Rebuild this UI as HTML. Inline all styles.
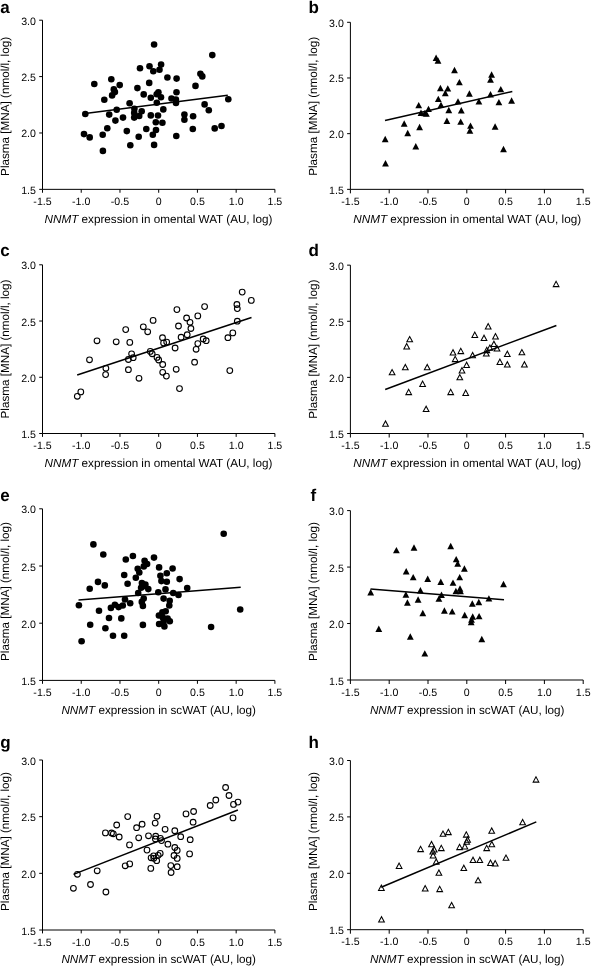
<!DOCTYPE html><html><head><meta charset="utf-8"><style>html,body{margin:0;padding:0;background:#fff;}svg{display:block;}text{font-family:"Liberation Sans", sans-serif;fill:#000;text-rendering:geometricPrecision;}svg{will-change:transform;}</style></head><body>
<svg width="591" height="966" viewBox="0 0 591 966">
<rect width="591" height="966" fill="#fff"/>
<g><text x="0.3" y="12.7" style="font-size:17px;font-weight:bold">a</text><path d="M42.5 20.2V189.35H274.9" fill="none" stroke="#000" stroke-width="1"/><path d="M39.2 20.2H42.5M39.2 76.58H42.5M39.2 132.97H42.5M39.2 189.35H42.5M42.5 189.35V192.75M81.23 189.35V192.75M119.97 189.35V192.75M158.7 189.35V192.75M197.43 189.35V192.75M236.17 189.35V192.75M274.9 189.35V192.75" fill="none" stroke="#000" stroke-width="1"/><text x="35.9" y="24.7" text-anchor="end" style="font-size:10.6px">3.0</text><text x="35.9" y="81.08" text-anchor="end" style="font-size:10.6px">2.5</text><text x="35.9" y="137.47" text-anchor="end" style="font-size:10.6px">2.0</text><text x="35.9" y="193.85" text-anchor="end" style="font-size:10.6px">1.5</text><text x="42.5" y="204.85" text-anchor="middle" style="font-size:10.6px">-1.5</text><text x="81.23" y="204.85" text-anchor="middle" style="font-size:10.6px">-1.0</text><text x="119.97" y="204.85" text-anchor="middle" style="font-size:10.6px">-0.5</text><text x="158.7" y="204.85" text-anchor="middle" style="font-size:10.6px">0</text><text x="197.43" y="204.85" text-anchor="middle" style="font-size:10.6px">0.5</text><text x="236.17" y="204.85" text-anchor="middle" style="font-size:10.6px">1.0</text><text x="274.9" y="204.85" text-anchor="middle" style="font-size:10.6px">1.5</text><text transform="translate(8.8 175.9) rotate(-90)" style="font-size:11.7px">Plasma [MNA] (nmol/l, log)</text><text x="44.6" y="222.7" style="font-size:11.7px"><tspan style="font-style:italic">NNMT</tspan> expression in omental WAT (AU, log)</text><g fill="#000"><circle cx="154.1" cy="44.5" r="3.3"/><circle cx="212.3" cy="55.1" r="3.3"/><circle cx="94.3" cy="84" r="3.3"/><circle cx="111.3" cy="79.2" r="3.3"/><circle cx="119.7" cy="85.1" r="3.3"/><circle cx="113.8" cy="89.4" r="3.3"/><circle cx="114.9" cy="92.1" r="3.3"/><circle cx="112.1" cy="95.4" r="3.3"/><circle cx="104.3" cy="99.7" r="3.3"/><circle cx="85.3" cy="114" r="3.3"/><circle cx="140" cy="68.3" r="3.3"/><circle cx="149.5" cy="66.2" r="3.3"/><circle cx="153.3" cy="71.3" r="3.3"/><circle cx="159.5" cy="69.7" r="3.3"/><circle cx="161.1" cy="64.5" r="3.3"/><circle cx="167.4" cy="77.5" r="3.3"/><circle cx="176.6" cy="78.6" r="3.3"/><circle cx="149.2" cy="82.9" r="3.3"/><circle cx="137.4" cy="88.1" r="3.3"/><circle cx="143.7" cy="94.4" r="3.3"/><circle cx="150.8" cy="97.7" r="3.3"/><circle cx="158.4" cy="92.3" r="3.3"/><circle cx="156.7" cy="94.2" r="3.3"/><circle cx="161" cy="97.3" r="3.3"/><circle cx="156.8" cy="102.7" r="3.3"/><circle cx="129.6" cy="103.2" r="3.3"/><circle cx="171.5" cy="98.5" r="3.3"/><circle cx="176.5" cy="92.3" r="3.3"/><circle cx="175.9" cy="99.5" r="3.3"/><circle cx="176" cy="102.9" r="3.3"/><circle cx="200.4" cy="73.7" r="3.3"/><circle cx="202.3" cy="76.4" r="3.3"/><circle cx="195.5" cy="85.9" r="3.3"/><circle cx="228.3" cy="99.2" r="3.3"/><circle cx="204.6" cy="104.4" r="3.3"/><circle cx="208.8" cy="110.2" r="3.3"/><circle cx="116.7" cy="109.7" r="3.3"/><circle cx="109.2" cy="114.6" r="3.3"/><circle cx="115.4" cy="120.6" r="3.3"/><circle cx="123" cy="117.6" r="3.3"/><circle cx="134.4" cy="108.8" r="3.3"/><circle cx="134.2" cy="112.9" r="3.3"/><circle cx="141.7" cy="111.3" r="3.3"/><circle cx="134.2" cy="117.6" r="3.3"/><circle cx="139.2" cy="116" r="3.3"/><circle cx="163.3" cy="109.4" r="3.3"/><circle cx="150.8" cy="115.4" r="3.3"/><circle cx="158" cy="115.5" r="3.3"/><circle cx="155.8" cy="122.3" r="3.3"/><circle cx="162.4" cy="122.8" r="3.3"/><circle cx="184.4" cy="114.6" r="3.3"/><circle cx="184.4" cy="119.8" r="3.3"/><circle cx="193.1" cy="116.2" r="3.3"/><circle cx="192.8" cy="129" r="3.3"/><circle cx="214.7" cy="128.4" r="3.3"/><circle cx="221.5" cy="126" r="3.3"/><circle cx="107.3" cy="128.2" r="3.3"/><circle cx="84" cy="134.1" r="3.3"/><circle cx="89.7" cy="137.4" r="3.3"/><circle cx="102.7" cy="134.7" r="3.3"/><circle cx="126.8" cy="131.1" r="3.3"/><circle cx="146.3" cy="129" r="3.3"/><circle cx="156" cy="130" r="3.3"/><circle cx="152.8" cy="134.7" r="3.3"/><circle cx="138.7" cy="136.8" r="3.3"/><circle cx="176.3" cy="136" r="3.3"/><circle cx="130.3" cy="145.2" r="3.3"/><circle cx="154.1" cy="144.9" r="3.3"/><circle cx="102.9" cy="150.9" r="3.3"/></g><path d="M85.1 113.5L227.8 95.2" stroke="#000" stroke-width="1.55" fill="none"/></g>
<g><text x="308.4" y="12.7" style="font-size:17px;font-weight:bold">b</text><path d="M350.4 22.3V189.35H583.2" fill="none" stroke="#000" stroke-width="1"/><path d="M347.1 22.3H350.4M347.1 77.98H350.4M347.1 133.67H350.4M347.1 189.35H350.4M350.4 189.35V193.35M389.2 189.35V193.35M428 189.35V193.35M466.8 189.35V193.35M505.6 189.35V193.35M544.4 189.35V193.35M583.2 189.35V193.35" fill="none" stroke="#000" stroke-width="1"/><text x="343.8" y="26.8" text-anchor="end" style="font-size:10.6px">3.0</text><text x="343.8" y="82.48" text-anchor="end" style="font-size:10.6px">2.5</text><text x="343.8" y="138.17" text-anchor="end" style="font-size:10.6px">2.0</text><text x="343.8" y="193.85" text-anchor="end" style="font-size:10.6px">1.5</text><text x="350.4" y="204.85" text-anchor="middle" style="font-size:10.6px">-1.5</text><text x="389.2" y="204.85" text-anchor="middle" style="font-size:10.6px">-1.0</text><text x="428" y="204.85" text-anchor="middle" style="font-size:10.6px">-0.5</text><text x="466.8" y="204.85" text-anchor="middle" style="font-size:10.6px">0</text><text x="505.6" y="204.85" text-anchor="middle" style="font-size:10.6px">0.5</text><text x="544.4" y="204.85" text-anchor="middle" style="font-size:10.6px">1.0</text><text x="583.2" y="204.85" text-anchor="middle" style="font-size:10.6px">1.5</text><text transform="translate(316.75 175.8) rotate(-90)" style="font-size:11.7px">Plasma [MNA] (nmol/l, log)</text><text x="353.3" y="222.7" style="font-size:11.7px"><tspan style="font-style:italic">NNMT</tspan> expression in omental WAT (AU, log)</text><g fill="#000"><path d="M436.1 54.55L432.7 60.95L439.5 60.95Z"/><path d="M438 57.25L434.6 63.65L441.4 63.65Z"/><path d="M454.5 66.75L451.1 73.15L457.9 73.15Z"/><path d="M491.6 71.35L488.2 77.75L495 77.75Z"/><path d="M490.5 76.25L487.1 82.65L493.9 82.65Z"/><path d="M459.4 78.95L456 85.35L462.8 85.35Z"/><path d="M440.4 84.85L437 91.25L443.8 91.25Z"/><path d="M447.8 85.15L444.4 91.55L451.2 91.55Z"/><path d="M445.3 89.75L441.9 96.15L448.7 96.15Z"/><path d="M469.4 90.25L466 96.65L472.8 96.65Z"/><path d="M500.8 85.95L497.4 92.35L504.2 92.35Z"/><path d="M490.5 91.05L487.1 97.45L493.9 97.45Z"/><path d="M438.3 95.65L434.9 102.05L441.7 102.05Z"/><path d="M458 98.15L454.6 104.55L461.4 104.55Z"/><path d="M478.9 98.15L475.5 104.55L482.3 104.55Z"/><path d="M498.9 98.95L495.5 105.35L502.3 105.35Z"/><path d="M511.6 97.35L508.2 103.75L515 103.75Z"/><path d="M418.7 101.95L415.3 108.35L422.1 108.35Z"/><path d="M441 101.65L437.6 108.05L444.4 108.05Z"/><path d="M428.5 105.65L425.1 112.05L431.9 112.05Z"/><path d="M421 109.55L417.6 115.95L424.4 115.95Z"/><path d="M424.8 109.95L421.4 116.35L428.2 116.35Z"/><path d="M426.4 110.45L423 116.85L429.8 116.85Z"/><path d="M448.8 106.75L445.4 113.15L452.2 113.15Z"/><path d="M461.3 107.05L457.9 113.45L464.7 113.45Z"/><path d="M404.2 120.35L400.8 126.75L407.6 126.75Z"/><path d="M419.6 123.85L416.2 130.25L423 130.25Z"/><path d="M446.9 117.55L443.5 123.95L450.3 123.95Z"/><path d="M460.7 118.45L457.3 124.85L464.1 124.85Z"/><path d="M470.5 122.45L467.1 128.85L473.9 128.85Z"/><path d="M469.9 127.35L466.5 133.75L473.3 133.75Z"/><path d="M495.1 123.35L491.7 129.75L498.5 129.75Z"/><path d="M407.7 129.85L404.3 136.25L411.1 136.25Z"/><path d="M385.5 160.05L382.1 166.45L388.9 166.45Z"/><path d="M415.8 143.05L412.4 149.45L419.2 149.45Z"/><path d="M503.5 145.75L500.1 152.15L506.9 152.15Z"/><path d="M385.2 135.75L381.8 142.15L388.6 142.15Z"/></g><path d="M385 120.5L512.3 91.5" stroke="#000" stroke-width="1.55" fill="none"/></g>
<g><text x="0.3" y="256.2" style="font-size:17px;font-weight:bold">c</text><path d="M42.5 264.8V433.5H274.9" fill="none" stroke="#000" stroke-width="1"/><path d="M39.2 264.8H42.5M39.2 321.03H42.5M39.2 377.27H42.5M39.2 433.5H42.5M42.5 433.5V436.9M81.23 433.5V436.9M119.97 433.5V436.9M158.7 433.5V436.9M197.43 433.5V436.9M236.17 433.5V436.9M274.9 433.5V436.9" fill="none" stroke="#000" stroke-width="1"/><text x="35.9" y="269.3" text-anchor="end" style="font-size:10.6px">3.0</text><text x="35.9" y="325.53" text-anchor="end" style="font-size:10.6px">2.5</text><text x="35.9" y="381.77" text-anchor="end" style="font-size:10.6px">2.0</text><text x="35.9" y="438" text-anchor="end" style="font-size:10.6px">1.5</text><text x="42.5" y="449" text-anchor="middle" style="font-size:10.6px">-1.5</text><text x="81.23" y="449" text-anchor="middle" style="font-size:10.6px">-1.0</text><text x="119.97" y="449" text-anchor="middle" style="font-size:10.6px">-0.5</text><text x="158.7" y="449" text-anchor="middle" style="font-size:10.6px">0</text><text x="197.43" y="449" text-anchor="middle" style="font-size:10.6px">0.5</text><text x="236.17" y="449" text-anchor="middle" style="font-size:10.6px">1.0</text><text x="274.9" y="449" text-anchor="middle" style="font-size:10.6px">1.5</text><text transform="translate(8.85 418.5) rotate(-90)" style="font-size:11.7px">Plasma [MNA] (nmol/l, log)</text><text x="44.6" y="466.85" style="font-size:11.7px"><tspan style="font-style:italic">NNMT</tspan> expression in omental WAT (AU, log)</text><g fill="none" stroke="#000" stroke-width="1.1"><circle cx="153.1" cy="320.4" r="2.85"/><circle cx="143.3" cy="326.8" r="2.85"/><circle cx="147.7" cy="331.8" r="2.85"/><circle cx="125.7" cy="329.6" r="2.85"/><circle cx="97" cy="340.8" r="2.85"/><circle cx="116.2" cy="341.8" r="2.85"/><circle cx="129.8" cy="342.4" r="2.85"/><circle cx="162.5" cy="337.7" r="2.85"/><circle cx="163.6" cy="342.9" r="2.85"/><circle cx="166.7" cy="342.1" r="2.85"/><circle cx="89.5" cy="359.8" r="2.85"/><circle cx="131.6" cy="353.8" r="2.85"/><circle cx="133.2" cy="357.7" r="2.85"/><circle cx="128.4" cy="359.5" r="2.85"/><circle cx="150.3" cy="351.4" r="2.85"/><circle cx="152.2" cy="353.8" r="2.85"/><circle cx="157" cy="357.4" r="2.85"/><circle cx="158.7" cy="360" r="2.85"/><circle cx="162.7" cy="364.5" r="2.85"/><circle cx="105.9" cy="368.3" r="2.85"/><circle cx="105.6" cy="374.6" r="2.85"/><circle cx="128.4" cy="369.7" r="2.85"/><circle cx="139" cy="378.3" r="2.85"/><circle cx="162.7" cy="372.3" r="2.85"/><circle cx="166.4" cy="376.1" r="2.85"/><circle cx="80.8" cy="391.9" r="2.85"/><circle cx="77.3" cy="396.3" r="2.85"/><circle cx="242.2" cy="292.1" r="2.85"/><circle cx="251.3" cy="300.4" r="2.85"/><circle cx="236.9" cy="304.5" r="2.85"/><circle cx="237.3" cy="308.6" r="2.85"/><circle cx="237.3" cy="321.2" r="2.85"/><circle cx="232.8" cy="332.9" r="2.85"/><circle cx="227.9" cy="337.7" r="2.85"/><circle cx="229.8" cy="370.6" r="2.85"/><circle cx="204.6" cy="306.6" r="2.85"/><circle cx="197.8" cy="315.9" r="2.85"/><circle cx="176.9" cy="309.6" r="2.85"/><circle cx="186.6" cy="318" r="2.85"/><circle cx="190" cy="322.3" r="2.85"/><circle cx="190.9" cy="328.5" r="2.85"/><circle cx="178.5" cy="326" r="2.85"/><circle cx="187.2" cy="334.7" r="2.85"/><circle cx="181.1" cy="337.2" r="2.85"/><circle cx="203.2" cy="339" r="2.85"/><circle cx="206.2" cy="340.7" r="2.85"/><circle cx="197.8" cy="343.6" r="2.85"/><circle cx="196.1" cy="349.3" r="2.85"/><circle cx="175.1" cy="348" r="2.85"/><circle cx="194.6" cy="362.2" r="2.85"/><circle cx="176.2" cy="369.3" r="2.85"/><circle cx="179.5" cy="388.6" r="2.85"/></g><path d="M77.2 374.9L251.5 317.5" stroke="#000" stroke-width="1.55" fill="none"/></g>
<g><text x="308.4" y="256.1" style="font-size:17px;font-weight:bold">d</text><path d="M350.4 265.15V433.5H583.2" fill="none" stroke="#000" stroke-width="1"/><path d="M347.1 265.15H350.4M347.1 321.27H350.4M347.1 377.38H350.4M347.1 433.5H350.4M350.4 433.5V437.5M389.2 433.5V437.5M428 433.5V437.5M466.8 433.5V437.5M505.6 433.5V437.5M544.4 433.5V437.5M583.2 433.5V437.5" fill="none" stroke="#000" stroke-width="1"/><text x="343.8" y="269.65" text-anchor="end" style="font-size:10.6px">3.0</text><text x="343.8" y="325.77" text-anchor="end" style="font-size:10.6px">2.5</text><text x="343.8" y="381.88" text-anchor="end" style="font-size:10.6px">2.0</text><text x="343.8" y="438" text-anchor="end" style="font-size:10.6px">1.5</text><text x="350.4" y="449" text-anchor="middle" style="font-size:10.6px">-1.5</text><text x="389.2" y="449" text-anchor="middle" style="font-size:10.6px">-1.0</text><text x="428" y="449" text-anchor="middle" style="font-size:10.6px">-0.5</text><text x="466.8" y="449" text-anchor="middle" style="font-size:10.6px">0</text><text x="505.6" y="449" text-anchor="middle" style="font-size:10.6px">0.5</text><text x="544.4" y="449" text-anchor="middle" style="font-size:10.6px">1.0</text><text x="583.2" y="449" text-anchor="middle" style="font-size:10.6px">1.5</text><text transform="translate(316.75 418.7) rotate(-90)" style="font-size:11.7px">Plasma [MNA] (nmol/l, log)</text><text x="353.3" y="466.85" style="font-size:11.7px"><tspan style="font-style:italic">NNMT</tspan> expression in omental WAT (AU, log)</text><g fill="none" stroke="#000" stroke-width="1.05"><path d="M409.7 336.5L406.85 341.8L412.55 341.8Z"/><path d="M406.7 343.6L403.85 348.9L409.55 348.9Z"/><path d="M392.1 369.5L389.25 374.8L394.95 374.8Z"/><path d="M405.3 364.4L402.45 369.7L408.15 369.7Z"/><path d="M427.2 364.4L424.35 369.7L430.05 369.7Z"/><path d="M422.6 381.1L419.75 386.4L425.45 386.4Z"/><path d="M408.7 389.3L405.85 394.6L411.55 394.6Z"/><path d="M426.1 406.2L423.25 411.5L428.95 411.5Z"/><path d="M385.5 420.9L382.65 426.2L388.35 426.2Z"/><path d="M453 349.7L450.15 355L455.85 355Z"/><path d="M460.8 348.3L457.95 353.6L463.65 353.6Z"/><path d="M455.2 356.3L452.35 361.6L458.05 361.6Z"/><path d="M466.6 362.2L463.75 367.5L469.45 367.5Z"/><path d="M462 367.6L459.15 372.9L464.85 372.9Z"/><path d="M459.8 374.5L456.95 379.8L462.65 379.8Z"/><path d="M450.7 389.3L447.85 394.6L453.55 394.6Z"/><path d="M465.7 390.1L462.85 395.4L468.55 395.4Z"/><path d="M472.6 352.4L469.75 357.7L475.45 357.7Z"/><path d="M474.8 332.1L471.95 337.4L477.65 337.4Z"/><path d="M556.1 281.3L553.25 286.6L558.95 286.6Z"/><path d="M488.2 323.6L485.35 328.9L491.05 328.9Z"/><path d="M484 335.2L481.15 340.5L486.85 340.5Z"/><path d="M495.5 333.6L492.65 338.9L498.35 338.9Z"/><path d="M493.9 341.2L491.05 346.5L496.75 346.5Z"/><path d="M489.9 345L487.05 350.3L492.75 350.3Z"/><path d="M486.8 347.3L483.95 352.6L489.65 352.6Z"/><path d="M497 345.7L494.15 351L499.85 351Z"/><path d="M486.3 350.7L483.45 356L489.15 356Z"/><path d="M507.3 351.2L504.45 356.5L510.15 356.5Z"/><path d="M521.9 349.5L519.05 354.8L524.75 354.8Z"/><path d="M499.9 359.1L497.05 364.4L502.75 364.4Z"/><path d="M507.3 361.7L504.45 367L510.15 367Z"/><path d="M524.4 361.7L521.55 367L527.25 367Z"/></g><path d="M385.2 389.4L556.4 325.4" stroke="#000" stroke-width="1.55" fill="none"/></g>
<g><text x="0.3" y="501.3" style="font-size:17px;font-weight:bold">e</text><path d="M42.5 508.8V680.4H274.9" fill="none" stroke="#000" stroke-width="1"/><path d="M39.2 508.8H42.5M39.2 566H42.5M39.2 623.2H42.5M39.2 680.4H42.5M42.5 680.4V683.8M81.23 680.4V683.8M119.97 680.4V683.8M158.7 680.4V683.8M197.43 680.4V683.8M236.17 680.4V683.8M274.9 680.4V683.8" fill="none" stroke="#000" stroke-width="1"/><text x="35.9" y="513.3" text-anchor="end" style="font-size:10.6px">3.0</text><text x="35.9" y="570.5" text-anchor="end" style="font-size:10.6px">2.5</text><text x="35.9" y="627.7" text-anchor="end" style="font-size:10.6px">2.0</text><text x="35.9" y="684.9" text-anchor="end" style="font-size:10.6px">1.5</text><text x="42.5" y="695.9" text-anchor="middle" style="font-size:10.6px">-1.5</text><text x="81.23" y="695.9" text-anchor="middle" style="font-size:10.6px">-1.0</text><text x="119.97" y="695.9" text-anchor="middle" style="font-size:10.6px">-0.5</text><text x="158.7" y="695.9" text-anchor="middle" style="font-size:10.6px">0</text><text x="197.43" y="695.9" text-anchor="middle" style="font-size:10.6px">0.5</text><text x="236.17" y="695.9" text-anchor="middle" style="font-size:10.6px">1.0</text><text x="274.9" y="695.9" text-anchor="middle" style="font-size:10.6px">1.5</text><text transform="translate(8.85 661) rotate(-90)" style="font-size:11.7px">Plasma [MNA] (nmol/l, log)</text><text x="61.4" y="713.75" style="font-size:11.7px"><tspan style="font-style:italic">NNMT</tspan> expression in scWAT (AU, log)</text><g fill="#000"><circle cx="93.4" cy="544.4" r="3.3"/><circle cx="103.3" cy="554.5" r="3.3"/><circle cx="125.8" cy="559.5" r="3.3"/><circle cx="132.9" cy="556" r="3.3"/><circle cx="144.6" cy="560.8" r="3.3"/><circle cx="147.1" cy="564" r="3.3"/><circle cx="143.8" cy="566.4" r="3.3"/><circle cx="154" cy="557.6" r="3.3"/><circle cx="137.7" cy="568.8" r="3.3"/><circle cx="139.3" cy="572.5" r="3.3"/><circle cx="159.1" cy="567.4" r="3.3"/><circle cx="124.2" cy="575" r="3.3"/><circle cx="135.8" cy="577.8" r="3.3"/><circle cx="160.4" cy="575.8" r="3.3"/><circle cx="166.8" cy="573.3" r="3.3"/><circle cx="161.4" cy="581.1" r="3.3"/><circle cx="166.8" cy="581.7" r="3.3"/><circle cx="98" cy="581.9" r="3.3"/><circle cx="104.8" cy="585.4" r="3.3"/><circle cx="89.7" cy="588.8" r="3.3"/><circle cx="127.6" cy="583.8" r="3.3"/><circle cx="141.9" cy="583" r="3.3"/><circle cx="145.4" cy="584.6" r="3.3"/><circle cx="141.1" cy="587.8" r="3.3"/><circle cx="148.3" cy="589.1" r="3.3"/><circle cx="138.2" cy="593" r="3.3"/><circle cx="158.3" cy="592.3" r="3.3"/><circle cx="165.5" cy="589.4" r="3.3"/><circle cx="78.9" cy="605.2" r="3.3"/><circle cx="99" cy="610.8" r="3.3"/><circle cx="110.9" cy="607.9" r="3.3"/><circle cx="114.9" cy="604.7" r="3.3"/><circle cx="118.6" cy="607.1" r="3.3"/><circle cx="122.8" cy="605.5" r="3.3"/><circle cx="125" cy="599.5" r="3.3"/><circle cx="130.2" cy="603.2" r="3.3"/><circle cx="143.7" cy="598.6" r="3.3"/><circle cx="141.8" cy="601.9" r="3.3"/><circle cx="142.9" cy="605.9" r="3.3"/><circle cx="143.7" cy="586.2" r="3.3"/><circle cx="163.6" cy="598.6" r="3.3"/><circle cx="169.7" cy="600.7" r="3.3"/><circle cx="169.3" cy="605.5" r="3.3"/><circle cx="109" cy="618" r="3.3"/><circle cx="121.3" cy="618.4" r="3.3"/><circle cx="90.2" cy="624.8" r="3.3"/><circle cx="105.4" cy="628.3" r="3.3"/><circle cx="142.9" cy="624.9" r="3.3"/><circle cx="113" cy="635.7" r="3.3"/><circle cx="124.2" cy="635.7" r="3.3"/><circle cx="81.6" cy="641.2" r="3.3"/><circle cx="165.7" cy="611.3" r="3.3"/><circle cx="162.4" cy="612.3" r="3.3"/><circle cx="158.9" cy="615.5" r="3.3"/><circle cx="162.8" cy="617.5" r="3.3"/><circle cx="167.6" cy="618.5" r="3.3"/><circle cx="169.8" cy="621.3" r="3.3"/><circle cx="163.6" cy="621.8" r="3.3"/><circle cx="159.1" cy="624" r="3.3"/><circle cx="164.4" cy="626.4" r="3.3"/><circle cx="223.7" cy="533.8" r="3.3"/><circle cx="240.2" cy="609.5" r="3.3"/><circle cx="211.1" cy="627" r="3.3"/><circle cx="172.6" cy="568.5" r="3.3"/><circle cx="179.6" cy="579.1" r="3.3"/><circle cx="187.2" cy="588.1" r="3.3"/><circle cx="173.2" cy="593" r="3.3"/><circle cx="178.5" cy="595" r="3.3"/></g><path d="M78.5 600.1L240.7 587.2" stroke="#000" stroke-width="1.55" fill="none"/></g>
<g><text x="310.6" y="501.3" style="font-size:17px;font-weight:bold">f</text><path d="M350.4 510.6V680H583.2" fill="none" stroke="#000" stroke-width="1"/><path d="M347.1 510.6H350.4M347.1 567.07H350.4M347.1 623.53H350.4M347.1 680H350.4M350.4 680V684M389.2 680V684M428 680V684M466.8 680V684M505.6 680V684M544.4 680V684M583.2 680V684" fill="none" stroke="#000" stroke-width="1"/><text x="343.8" y="515.1" text-anchor="end" style="font-size:10.6px">3.0</text><text x="343.8" y="571.57" text-anchor="end" style="font-size:10.6px">2.5</text><text x="343.8" y="628.03" text-anchor="end" style="font-size:10.6px">2.0</text><text x="343.8" y="684.5" text-anchor="end" style="font-size:10.6px">1.5</text><text x="350.4" y="695.5" text-anchor="middle" style="font-size:10.6px">-1.5</text><text x="389.2" y="695.5" text-anchor="middle" style="font-size:10.6px">-1.0</text><text x="428" y="695.5" text-anchor="middle" style="font-size:10.6px">-0.5</text><text x="466.8" y="695.5" text-anchor="middle" style="font-size:10.6px">0</text><text x="505.6" y="695.5" text-anchor="middle" style="font-size:10.6px">0.5</text><text x="544.4" y="695.5" text-anchor="middle" style="font-size:10.6px">1.0</text><text x="583.2" y="695.5" text-anchor="middle" style="font-size:10.6px">1.5</text><text transform="translate(316.8 661.1) rotate(-90)" style="font-size:11.7px">Plasma [MNA] (nmol/l, log)</text><text x="369.9" y="714.15" style="font-size:11.7px"><tspan style="font-style:italic">NNMT</tspan> expression in scWAT (AU, log)</text><g fill="#000"><path d="M396.4 546.95L393 553.35L399.8 553.35Z"/><path d="M414 544.35L410.6 550.75L417.4 550.75Z"/><path d="M450.7 542.85L447.3 549.25L454.1 549.25Z"/><path d="M456.2 555.95L452.8 562.35L459.6 562.35Z"/><path d="M457.7 560.25L454.3 566.65L461.1 566.65Z"/><path d="M406.2 568.05L402.8 574.45L409.6 574.45Z"/><path d="M413.2 573.95L409.8 580.35L416.6 580.35Z"/><path d="M427.7 575.55L424.3 581.95L431.1 581.95Z"/><path d="M440.8 578.55L437.4 584.95L444.2 584.95Z"/><path d="M453 579.45L449.6 585.85L456.4 585.85Z"/><path d="M459.7 573.95L456.3 580.35L463.1 580.35Z"/><path d="M370.7 589.05L367.3 595.45L374.1 595.45Z"/><path d="M405.9 591.25L402.5 597.65L409.3 597.65Z"/><path d="M420.4 587.05L417 593.45L423.8 593.45Z"/><path d="M441.5 591.55L438.1 597.95L444.9 597.95Z"/><path d="M438.9 595.45L435.5 601.85L442.3 601.85Z"/><path d="M418.1 596.35L414.7 602.75L421.5 602.75Z"/><path d="M407.4 599.35L404 605.75L410.8 605.75Z"/><path d="M455.9 587.85L452.5 594.25L459.3 594.25Z"/><path d="M460 585.35L456.6 591.75L463.4 591.75Z"/><path d="M460.5 587.85L457.1 594.25L463.9 594.25Z"/><path d="M422.8 609.85L419.4 616.25L426.2 616.25Z"/><path d="M444.4 607.25L441 613.65L447.8 613.65Z"/><path d="M452.2 608.15L448.8 614.55L455.6 614.55Z"/><path d="M378.8 625.55L375.4 631.95L382.2 631.95Z"/><path d="M410.3 633.25L406.9 639.65L413.7 639.65Z"/><path d="M424.8 650.15L421.4 656.55L428.2 656.55Z"/><path d="M464.4 565.35L461 571.75L467.8 571.75Z"/><path d="M503.5 580.75L500.1 587.15L506.9 587.15Z"/><path d="M488.9 595.15L485.5 601.55L492.3 601.55Z"/><path d="M478.8 598.85L475.4 605.25L482.2 605.25Z"/><path d="M472.3 600.25L468.9 606.65L475.7 606.65Z"/><path d="M464.7 611.85L461.3 618.25L468.1 618.25Z"/><path d="M472.7 613.25L469.3 619.65L476.1 619.65Z"/><path d="M479.1 612.95L475.7 619.35L482.5 619.35Z"/><path d="M471.5 616.25L468.1 622.65L474.9 622.65Z"/><path d="M471.2 618.85L467.8 625.25L474.6 625.25Z"/><path d="M481.8 635.75L478.4 642.15L485.2 642.15Z"/></g><path d="M370.5 588.9L504 599.7" stroke="#000" stroke-width="1.55" fill="none"/></g>
<g><text x="0.3" y="747.7" style="font-size:17px;font-weight:bold">g</text><path d="M42.5 760V930H274.9" fill="none" stroke="#000" stroke-width="1"/><path d="M39.2 760H42.5M39.2 816.67H42.5M39.2 873.33H42.5M39.2 930H42.5M42.5 930V933.4M81.23 930V933.4M119.97 930V933.4M158.7 930V933.4M197.43 930V933.4M236.17 930V933.4M274.9 930V933.4" fill="none" stroke="#000" stroke-width="1"/><text x="35.9" y="764.5" text-anchor="end" style="font-size:10.6px">3.0</text><text x="35.9" y="821.17" text-anchor="end" style="font-size:10.6px">2.5</text><text x="35.9" y="877.83" text-anchor="end" style="font-size:10.6px">2.0</text><text x="35.9" y="934.5" text-anchor="end" style="font-size:10.6px">1.5</text><text x="42.5" y="945.5" text-anchor="middle" style="font-size:10.6px">-1.5</text><text x="81.23" y="945.5" text-anchor="middle" style="font-size:10.6px">-1.0</text><text x="119.97" y="945.5" text-anchor="middle" style="font-size:10.6px">-0.5</text><text x="158.7" y="945.5" text-anchor="middle" style="font-size:10.6px">0</text><text x="197.43" y="945.5" text-anchor="middle" style="font-size:10.6px">0.5</text><text x="236.17" y="945.5" text-anchor="middle" style="font-size:10.6px">1.0</text><text x="274.9" y="945.5" text-anchor="middle" style="font-size:10.6px">1.5</text><text transform="translate(8.85 911) rotate(-90)" style="font-size:11.7px">Plasma [MNA] (nmol/l, log)</text><text x="61.4" y="963.35" style="font-size:11.7px"><tspan style="font-style:italic">NNMT</tspan> expression in scWAT (AU, log)</text><g fill="none" stroke="#000" stroke-width="1.1"><circle cx="127.7" cy="816.6" r="2.85"/><circle cx="157" cy="816.3" r="2.85"/><circle cx="155.2" cy="823.1" r="2.85"/><circle cx="142.1" cy="824.2" r="2.85"/><circle cx="136.6" cy="827.7" r="2.85"/><circle cx="116.7" cy="825" r="2.85"/><circle cx="165.1" cy="829.3" r="2.85"/><circle cx="105.4" cy="832.9" r="2.85"/><circle cx="111.5" cy="833" r="2.85"/><circle cx="113.3" cy="833.8" r="2.85"/><circle cx="119.2" cy="837" r="2.85"/><circle cx="138.7" cy="837.8" r="2.85"/><circle cx="148.5" cy="835.8" r="2.85"/><circle cx="155.7" cy="836.2" r="2.85"/><circle cx="155.4" cy="839" r="2.85"/><circle cx="160.4" cy="838.3" r="2.85"/><circle cx="161.5" cy="840.6" r="2.85"/><circle cx="129.5" cy="844.9" r="2.85"/><circle cx="147" cy="850.1" r="2.85"/><circle cx="160.2" cy="853.4" r="2.85"/><circle cx="158.2" cy="855.3" r="2.85"/><circle cx="153.6" cy="855.8" r="2.85"/><circle cx="151.1" cy="857.8" r="2.85"/><circle cx="153.8" cy="858.3" r="2.85"/><circle cx="156.7" cy="860.7" r="2.85"/><circle cx="129.7" cy="863.9" r="2.85"/><circle cx="125.2" cy="865.8" r="2.85"/><circle cx="150.8" cy="868.4" r="2.85"/><circle cx="97.2" cy="870.8" r="2.85"/><circle cx="77.4" cy="874.3" r="2.85"/><circle cx="90.5" cy="884.5" r="2.85"/><circle cx="73.4" cy="888.3" r="2.85"/><circle cx="105.9" cy="892" r="2.85"/><circle cx="225.6" cy="787.5" r="2.85"/><circle cx="229" cy="795.5" r="2.85"/><circle cx="215.8" cy="800" r="2.85"/><circle cx="210.2" cy="805.5" r="2.85"/><circle cx="238" cy="802.1" r="2.85"/><circle cx="233.5" cy="804.4" r="2.85"/><circle cx="233" cy="817.9" r="2.85"/><circle cx="193.6" cy="811.5" r="2.85"/><circle cx="186" cy="813.9" r="2.85"/><circle cx="193.1" cy="822.2" r="2.85"/><circle cx="174.8" cy="830.7" r="2.85"/><circle cx="180.7" cy="836.7" r="2.85"/><circle cx="190.2" cy="839.7" r="2.85"/><circle cx="167.9" cy="844.2" r="2.85"/><circle cx="174.8" cy="847.5" r="2.85"/><circle cx="177.2" cy="850.4" r="2.85"/><circle cx="174" cy="855.5" r="2.85"/><circle cx="177.2" cy="858.4" r="2.85"/><circle cx="189.6" cy="853.9" r="2.85"/><circle cx="170.8" cy="865.6" r="2.85"/><circle cx="177.2" cy="866.7" r="2.85"/><circle cx="171.1" cy="872.5" r="2.85"/></g><path d="M73.5 874.4L237.9 810" stroke="#000" stroke-width="1.55" fill="none"/></g>
<g><text x="308.4" y="747.7" style="font-size:17px;font-weight:bold">h</text><path d="M350.4 760.5V929.7H583.2" fill="none" stroke="#000" stroke-width="1"/><path d="M347.1 760.5H350.4M347.1 816.9H350.4M347.1 873.3H350.4M347.1 929.7H350.4M350.4 929.7V933.7M389.2 929.7V933.7M428 929.7V933.7M466.8 929.7V933.7M505.6 929.7V933.7M544.4 929.7V933.7M583.2 929.7V933.7" fill="none" stroke="#000" stroke-width="1"/><text x="343.8" y="765" text-anchor="end" style="font-size:10.6px">3.0</text><text x="343.8" y="821.4" text-anchor="end" style="font-size:10.6px">2.5</text><text x="343.8" y="877.8" text-anchor="end" style="font-size:10.6px">2.0</text><text x="343.8" y="934.2" text-anchor="end" style="font-size:10.6px">1.5</text><text x="350.4" y="945.2" text-anchor="middle" style="font-size:10.6px">-1.5</text><text x="389.2" y="945.2" text-anchor="middle" style="font-size:10.6px">-1.0</text><text x="428" y="945.2" text-anchor="middle" style="font-size:10.6px">-0.5</text><text x="466.8" y="945.2" text-anchor="middle" style="font-size:10.6px">0</text><text x="505.6" y="945.2" text-anchor="middle" style="font-size:10.6px">0.5</text><text x="544.4" y="945.2" text-anchor="middle" style="font-size:10.6px">1.0</text><text x="583.2" y="945.2" text-anchor="middle" style="font-size:10.6px">1.5</text><text transform="translate(316.8 911.1) rotate(-90)" style="font-size:11.7px">Plasma [MNA] (nmol/l, log)</text><text x="369.9" y="963.05" style="font-size:11.7px"><tspan style="font-style:italic">NNMT</tspan> expression in scWAT (AU, log)</text><g fill="none" stroke="#000" stroke-width="1.05"><path d="M443 831L440.15 836.3L445.85 836.3Z"/><path d="M448.4 829.3L445.55 834.6L451.25 834.6Z"/><path d="M466.3 831.8L463.45 837.1L469.15 837.1Z"/><path d="M467.6 836.9L464.75 842.2L470.45 842.2Z"/><path d="M466.7 839L463.85 844.3L469.55 844.3Z"/><path d="M459.6 844.3L456.75 849.6L462.45 849.6Z"/><path d="M464.9 843.6L462.05 848.9L467.75 848.9Z"/><path d="M431.5 841.4L428.65 846.7L434.35 846.7Z"/><path d="M420.6 846.3L417.75 851.6L423.45 851.6Z"/><path d="M434.2 846.7L431.35 852L437.05 852Z"/><path d="M432.8 848.7L429.95 854L435.65 854Z"/><path d="M441.3 845.3L438.45 850.6L444.15 850.6Z"/><path d="M433.1 852.6L430.25 857.9L435.95 857.9Z"/><path d="M436.2 858.9L433.35 864.2L439.05 864.2Z"/><path d="M399.1 863.1L396.25 868.4L401.95 868.4Z"/><path d="M463.8 865.2L460.95 870.5L466.65 870.5Z"/><path d="M438.9 869.9L436.05 875.2L441.75 875.2Z"/><path d="M381.4 885.1L378.55 890.4L384.25 890.4Z"/><path d="M425.2 885.6L422.35 890.9L428.05 890.9Z"/><path d="M439.7 886.3L436.85 891.6L442.55 891.6Z"/><path d="M451.6 902.4L448.75 907.7L454.45 907.7Z"/><path d="M381.5 916.7L378.65 922L384.35 922Z"/><path d="M536 776.8L533.15 782.1L538.85 782.1Z"/><path d="M522.6 819.4L519.75 824.7L525.45 824.7Z"/><path d="M491.7 827.9L488.85 833.2L494.55 833.2Z"/><path d="M491.8 841.4L488.95 846.7L494.65 846.7Z"/><path d="M486.7 845.3L483.85 850.6L489.55 850.6Z"/><path d="M473 857.2L470.15 862.5L475.85 862.5Z"/><path d="M479.8 857.2L476.95 862.5L482.65 862.5Z"/><path d="M490.5 860.1L487.65 865.4L493.35 865.4Z"/><path d="M495.2 860.6L492.35 865.9L498.05 865.9Z"/><path d="M506 855L503.15 860.3L508.85 860.3Z"/><path d="M478.1 877.5L475.25 882.8L480.95 882.8Z"/></g><path d="M381.2 887.3L536.3 821.9" stroke="#000" stroke-width="1.55" fill="none"/></g>
</svg></body></html>
